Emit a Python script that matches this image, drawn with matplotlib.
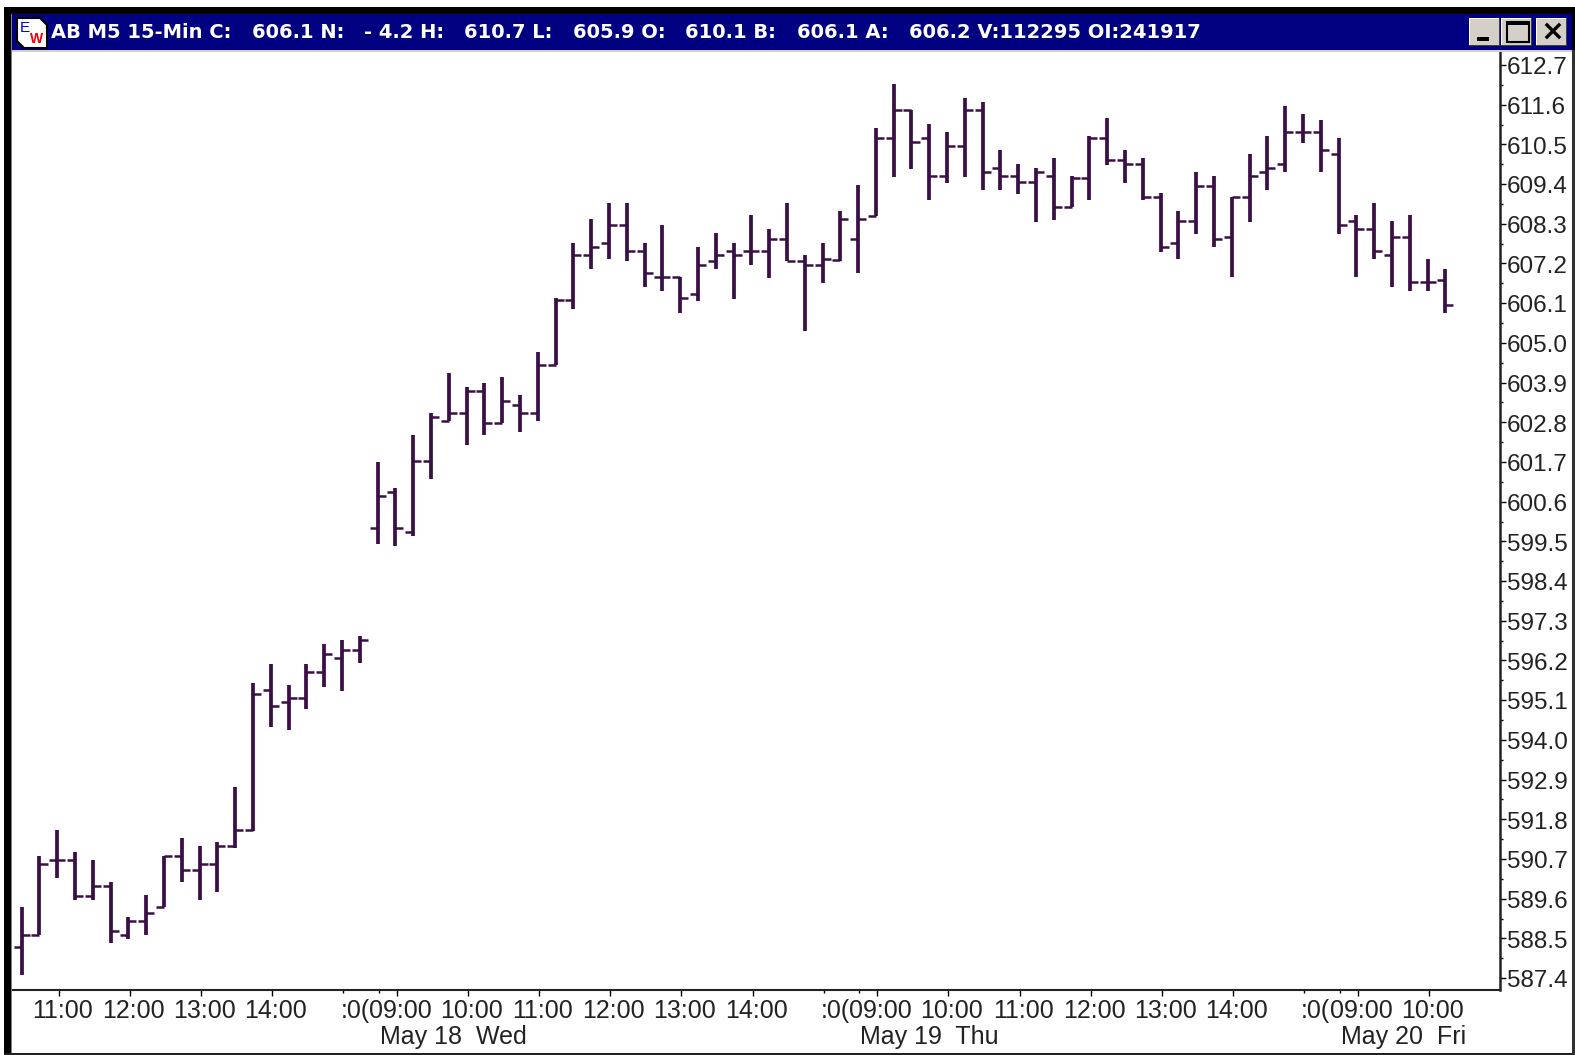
#!/usr/bin/env python3
"""AB M5 15-min bar chart, May 18-20"""

import numpy as np
import matplotlib
matplotlib.use('Agg')
import matplotlib.pyplot as plt
from matplotlib.patches import Rectangle, Polygon
from matplotlib.transforms import ScaledTranslation

# OHLC values
highs = [589.37, 590.78, 591.50, 590.89, 590.67, 590.06, 589.09, 589.70, 590.78, 591.28,
         591.06, 591.17, 592.69, 595.57, 596.10, 595.52, 596.10, 596.65, 596.77, 596.88,
         601.70, 600.98, 602.45, 603.06, 604.16, 603.78, 603.89, 604.05, 603.55, 604.75,
         606.24, 607.77, 608.43, 608.87, 608.87, 607.77, 608.27, 606.82, 607.66, 608.04,
         607.77, 608.54, 608.15, 608.87, 607.43, 607.77, 608.65, 609.37, 610.95, 612.17,
         611.45, 611.06, 610.84, 611.78, 611.67, 610.34, 609.96, 609.84, 610.12, 609.62,
         610.73, 611.23, 610.34, 610.12, 609.15, 608.65, 609.73, 609.62, 609.04, 610.23,
         610.73, 611.56, 611.34, 611.17, 610.68, 608.54, 608.87, 608.38, 608.54, 607.32,
         607.05]
lows = [587.48, 588.59, 590.17, 589.56, 589.56, 588.37, 588.48, 588.59, 589.37, 590.06,
        589.56, 589.78, 591.00, 591.47, 594.35, 594.27, 594.85, 595.46, 595.35, 596.13,
        599.43, 599.37, 599.65, 601.23, 602.83, 602.17, 602.45, 602.78, 602.53, 602.83,
        604.39, 605.94, 607.05, 607.32, 607.27, 606.55, 606.44, 605.83, 606.16, 607.05,
        606.21, 607.16, 606.80, 607.27, 605.33, 606.66, 607.27, 606.94, 608.51, 609.60,
        609.82, 608.96, 609.43, 609.60, 609.24, 609.24, 609.12, 608.35, 608.40, 608.76,
        608.96, 609.93, 609.43, 608.96, 607.52, 607.32, 608.02, 607.66, 606.82, 608.35,
        609.24, 609.73, 610.54, 609.73, 608.02, 606.82, 607.32, 606.55, 606.44, 606.44,
        605.83]
opens = [588.26, 588.59, 590.67, 590.67, 589.67, 589.95, 588.59, 588.98, 589.37, 590.78,
         590.39, 590.56, 591.06, 591.50, 595.38, 595.05, 595.16, 595.88, 596.27, 596.49,
         599.87, 600.87, 599.76, 601.73, 602.83, 603.06, 603.67, 602.78, 603.28, 603.06,
         604.39, 606.19, 607.43, 607.77, 608.27, 607.54, 606.82, 606.82, 606.35, 607.27,
         607.54, 607.54, 607.54, 607.88, 607.27, 607.16, 607.30, 607.88, 608.51, 610.68,
         611.45, 610.68, 609.62, 610.45, 611.45, 609.84, 609.62, 609.46, 609.62, 608.76,
         609.57, 610.68, 610.07, 609.96, 609.04, 607.77, 608.38, 609.35, 607.93, 609.04,
         609.73, 609.96, 610.84, 610.84, 610.23, 608.38, 608.15, 607.43, 607.93, 606.69,
         606.74]
closes = [588.59, 590.56, 590.67, 589.67, 589.95, 588.70, 588.98, 589.20, 590.78, 590.39,
          590.56, 591.06, 591.50, 595.27, 594.94, 595.16, 595.88, 596.38, 596.49, 596.77,
          600.76, 599.87, 601.73, 602.94, 603.06, 603.67, 602.78, 603.39, 603.06, 604.39,
          606.19, 607.43, 607.66, 608.27, 607.54, 606.94, 606.82, 606.24, 607.16, 607.43,
          607.43, 607.54, 607.88, 607.27, 607.16, 607.32, 608.43, 608.43, 610.68, 611.45,
          610.57, 609.62, 610.45, 611.45, 609.73, 609.62, 609.46, 609.73, 608.76, 609.57,
          610.68, 610.07, 609.96, 609.04, 607.66, 608.38, 609.35, 607.88, 609.04, 609.62,
          609.84, 610.84, 610.84, 610.34, 608.27, 608.15, 607.54, 607.93, 606.69, 606.69,
          606.05]

price_ticks = [612.7, 611.6, 610.5, 609.4, 608.3, 607.2, 606.1, 605.0, 603.9, 602.8, 601.7, 600.6,
               599.5, 598.4, 597.3, 596.2, 595.1, 594.0, 592.9, 591.8, 590.7, 589.6, 588.5, 587.4]

# x axis: position given as bar number
hour_bars = [2, 6, 10, 14, 21, 25, 29, 33, 37, 41, 48, 52, 56, 60, 64, 68, 75, 79]
hour_labels = ['11:00', '12:00', '13:00', '14:00',
               '09:00', '10:00', '11:00', '12:00', '13:00', '14:00',
               '09:00', '10:00', '11:00', '12:00', '13:00', '14:00',
               '09:00', '10:00']
close_bars = [18, 45, 72]
close_label = ':0('
day_bars = [20, 47, 74]
day_labels = ['May 18  Wed', 'May 19  Thu', 'May 20  Fri']

title_parts = ['AB M5 15-Min C:', '606.1 N:', '- 4.2 H:', '610.7 L:', '605.9 O:',
               '610.1 B:', '606.1 A:', '606.2 V:112295 OI:241917']
title_px = [51, 252, 364, 464, 573, 685, 797, 909]

BAR_COLOR = '#3a0f45'
TEXT_COLOR = '#222222'
W, H = 1575, 1055

fig = plt.figure(figsize=(W / 100, H / 100), dpi=100, facecolor='white')

# ============================================================================
# window frame, in pixel coordinates
# ============================================================================
bg = fig.add_axes([0, 0, 1, 1], zorder=3)
bg.set_xlim(0, W)
bg.set_ylim(H, 0)
bg.axis('off')
bg.patch.set_alpha(0)


def box(x0, y0, x1, y1, color):
    bg.add_patch(Rectangle((x0, y0), x1 - x0, y1 - y0, facecolor=color, edgecolor='none'))


box(4, 7, W, 14, 'black')
box(4, 7, 11, H, 'black')
box(11, 14, 12, H, '#808080')
box(4, 1053, W, H, '#202020')
box(1572, 50, W, H, '#303030')
box(12, 14, 1572, 50, '#000080')
box(1572, 14, W, 50, '#000000')
box(12, 50, 1572, 52, '#d4d0c8')

# icon
bg.add_patch(Polygon([(17, 18), (40, 18), (47, 25), (47, 48), (24, 48), (17, 41)],
                     facecolor='white', edgecolor='black', linewidth=1.5))
bg.text(25, 28, 'E', color='#0000e0', fontsize=11, ha='center', va='center', family='Liberation Sans')
bg.text(37, 39, 'W', color='#f00000', fontsize=10, fontweight='bold', ha='center', va='center',
        family='Liberation Sans')

for part, px in zip(title_parts, title_px):
    bg.text(px, 33, part, color='white', fontsize=14, fontweight='bold', ha='left', va='center',
            family='DejaVu Sans')

# buttons
for x0, x1 in [(1469, 1500), (1501, 1532), (1536, 1567)]:
    box(x0, 18, x1, 46, '#404040')
    box(x0, 18, x1 - 1, 45, 'white')
    box(x0 + 1, 19, x1 - 1, 45, '#d4d0c8')
box(1477, 37, 1489, 41, 'black')
bg.add_patch(Rectangle((1507, 22), 22, 20, facecolor='none', edgecolor='black', linewidth=1.5))
box(1507, 22, 1529, 25, 'black')
bg.plot([1547, 1559], [25, 37], color='black', lw=2.4)
bg.plot([1547, 1559], [37, 25], color='black', lw=2.4)

# ============================================================================
# chart
# ============================================================================
ax = fig.add_axes([13 / W, 1 - 990 / H, (1500 - 13) / W, (990 - 52) / H], zorder=2)
ax.set_xlim(-0.489, 83.07)
ax.set_ylim(587.07, 613.06)

bars = np.arange(len(highs))
ax.vlines(bars, lows, highs, color=BAR_COLOR, linewidth=2.7)
ax.hlines(opens, bars - 0.45, bars, color=BAR_COLOR, linewidth=1.8)
ax.hlines(closes, bars, bars + 0.45, color=BAR_COLOR, linewidth=1.8)

for side in ['top', 'left']:
    ax.spines[side].set_visible(False)
ax.spines['right'].set_linewidth(1.8)
ax.spines['bottom'].set_linewidth(1.5)
ax.spines['right'].set_color('#222222')
ax.spines['bottom'].set_color('#222222')

ax.yaxis.tick_right()
ax.set_yticks(price_ticks)
ax.set_yticklabels([f'{p:.1f}' for p in price_ticks], fontsize=17.5, color=TEXT_COLOR,
                   family='Liberation Sans')
ax.set_yticks(np.array(price_ticks[:-1]) - 0.55, minor=True)
ax.tick_params(axis='y', which='major', direction='out', length=4.3, width=1, pad=0.5)
ax.tick_params(axis='y', which='minor', direction='out', length=2, width=1)

# labels sit a little below their ticks
down = ScaledTranslation(0, -0.8 / 100, fig.dpi_scale_trans)
for lab in ax.get_yticklabels():
    lab.set_transform(lab.get_transform() + down)

tick_shift = 0.07
ax.set_xticks(np.array(hour_bars) + tick_shift)
ax.set_xticklabels([])
ax.set_xticks(np.array(close_bars + day_bars) + tick_shift, minor=True)
ax.tick_params(axis='x', which='major', direction='out', length=4.3, width=1)
ax.tick_params(axis='x', which='minor', direction='out', length=2, width=1)


def xlabel(bar, text, dx, dy, ha='center'):
    ax.annotate(text, xy=(bar + tick_shift, 0), xycoords=('data', 'axes fraction'),
                xytext=(dx, dy), textcoords='offset pixels', ha=ha, va='center',
                fontsize=18, color=TEXT_COLOR, family='Liberation Sans', annotation_clip=False)


for bar, lab in zip(hour_bars, hour_labels):
    xlabel(bar, lab, 3.5, -21)
for bar in close_bars:
    xlabel(bar, close_label, -3, -21, ha='left')
for bar, lab in zip(day_bars, day_labels):
    xlabel(bar, lab, 1, -47, ha='left')

fig.savefig('out.png', dpi=100)
